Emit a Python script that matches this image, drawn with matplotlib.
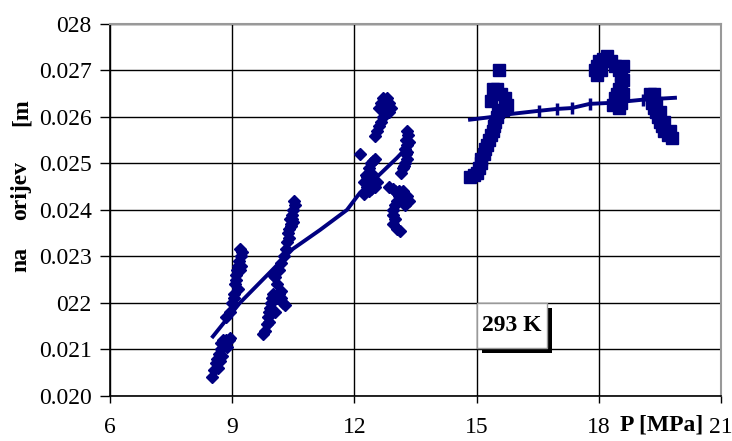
import matplotlib.pyplot as plt
from matplotlib.patches import Rectangle

# measured points, lower pressures (diamonds)
p_low = [8.52, 8.55, 8.60, 8.62, 8.68, 8.72, 8.70, 8.66, 8.75, 8.80, 8.85, 8.92, 8.95, 8.88, 8.78, 8.74,
         8.85, 8.95, 9.00, 9.05, 9.08, 9.10, 9.12, 9.15, 9.18, 9.22, 9.25, 9.20, 9.10, 9.15, 9.20, 9.23, 9.05,
         9.75, 9.80, 9.85, 9.88, 9.90, 9.93, 9.95, 9.98, 10.00, 10.05, 10.10, 10.15, 10.20, 10.25, 10.30,
         10.05, 10.00, 10.10, 10.20, 9.90, 10.05,
         10.15, 10.20, 10.28, 10.32, 10.35, 10.38, 10.40, 10.45, 10.42, 10.48, 10.50, 10.55, 10.52, 10.45,
         10.50, 10.40, 10.47,
         12.15, 12.25, 12.30, 12.28, 12.35, 12.40, 12.45, 12.50, 12.35, 12.42, 12.50, 12.55, 12.30, 12.40, 12.25,
         12.50, 12.55, 12.60, 12.65, 12.70, 12.75, 12.70, 12.65, 12.70, 12.80, 12.85, 12.90, 12.85, 12.60, 12.75,
         13.30, 13.32, 13.28, 13.30, 13.25, 13.28, 13.30, 13.25, 13.20, 13.15, 13.22, 13.30, 13.35,
         12.85, 12.95, 13.00, 13.10, 13.20, 13.30, 13.35, 13.05, 13.00, 12.95, 12.95, 13.00, 12.95, 13.05,
         13.12, 13.20, 13.25, 13.10]
d_low = [0.02040, 0.02055, 0.02070, 0.02080, 0.02090, 0.02100, 0.02075, 0.02060, 0.02085, 0.02110,
         0.02120, 0.02120, 0.02125, 0.02105, 0.02120, 0.02115,
         0.02170, 0.02180, 0.02200, 0.02220, 0.02240, 0.02260, 0.02270, 0.02280, 0.02290, 0.02300, 0.02310,
         0.02315, 0.02250, 0.02230, 0.02270, 0.02280, 0.02210,
         0.02133, 0.02140, 0.02155, 0.02170, 0.02180, 0.02190, 0.02200, 0.02210, 0.02220, 0.02215, 0.02210,
         0.02220, 0.02210, 0.02200, 0.02195, 0.02255, 0.02260, 0.02240, 0.02225, 0.02160, 0.02180,
         0.02270, 0.02285, 0.02300, 0.02315, 0.02330, 0.02350, 0.02360, 0.02370, 0.02380, 0.02390, 0.02400,
         0.02410, 0.02420, 0.02365, 0.02375, 0.02340, 0.02380,
         0.02520, 0.02460, 0.02450, 0.02475, 0.02490, 0.02500, 0.02505, 0.02510, 0.02440, 0.02445, 0.02450,
         0.02460, 0.02470, 0.02480, 0.02435,
         0.02558, 0.02570, 0.02580, 0.02590, 0.02600, 0.02610, 0.02620, 0.02630, 0.02640, 0.02640, 0.02630,
         0.02620, 0.02610, 0.02620, 0.02635,
         0.02570, 0.02560, 0.02550, 0.02540, 0.02530, 0.02520, 0.02510, 0.02500, 0.02490, 0.02480, 0.02495,
         0.02525, 0.02545,
         0.02450, 0.02445, 0.02440, 0.02440, 0.02440, 0.02430, 0.02420, 0.02420, 0.02410, 0.02400, 0.02390,
         0.02380, 0.02370, 0.02360, 0.02355, 0.02420, 0.02410, 0.02430]

# measured points, higher pressures (squares)
p_high = [14.85, 14.95, 15.00, 15.05, 15.10, 15.12, 15.18, 15.20, 15.25, 15.30, 15.35, 15.40, 15.42, 15.45,
          15.50, 15.52, 15.35, 15.40, 15.50, 15.60, 15.70, 15.75, 15.65, 15.55,
          17.90, 17.95, 18.00, 18.10, 18.20, 18.30, 18.40, 18.50, 18.55, 18.60, 18.55, 18.50, 18.45, 18.40,
          18.45, 18.50, 18.55, 18.60, 17.95, 18.05, 18.60, 18.35,
          19.25, 19.35, 19.30, 19.30, 19.35, 19.40, 19.45, 19.50, 19.55, 19.60, 19.70, 19.80, 19.75, 19.50,
          19.40, 19.60]
d_high = [0.02470, 0.02475, 0.02480, 0.02490, 0.02500, 0.02510, 0.02520, 0.02530, 0.02540, 0.02550, 0.02560,
          0.02570, 0.02580, 0.02590, 0.02600, 0.02610, 0.02635, 0.02660, 0.02660, 0.02650, 0.02640, 0.02625,
          0.02615, 0.02700,
          0.02700, 0.02710, 0.02720, 0.02725, 0.02730, 0.02720, 0.02710, 0.02700, 0.02690, 0.02680, 0.02670,
          0.02660, 0.02650, 0.02640, 0.02630, 0.02620, 0.02630, 0.02650, 0.02690, 0.02700, 0.02710, 0.02625,
          0.02650, 0.02650, 0.02640, 0.02630, 0.02620, 0.02610, 0.02600, 0.02590, 0.02580, 0.02570, 0.02560,
          0.02555, 0.02570, 0.02610, 0.02630, 0.02590]

# fitted curves
fit_low_p = [8.53, 9.19, 10.00, 10.49, 11.16, 11.82, 12.14, 12.56, 13.05, 13.19]
fit_low_d = [0.02128, 0.02200, 0.02272, 0.02316, 0.02357, 0.02400, 0.02437, 0.02471, 0.02512, 0.02525]
fit_high_p = [14.84, 15.40, 15.82, 16.53, 16.97, 17.34, 17.78, 18.28, 19.09, 19.87]
fit_high_d = [0.02594, 0.02600, 0.02606, 0.02613, 0.02617, 0.02619, 0.02628, 0.02630, 0.02637, 0.02641]
fit_high_marks = [1, 3, 4, 5, 6, 8]

y_ticks = [0.020, 0.021, 0.022, 0.023, 0.024, 0.025, 0.026, 0.027, 0.028]
y_labels = ['0.020', '0.021', '022', '0.023', '0.024', '0.025', '0.026', '0.027', '028']
x_ticks = [6, 9, 12, 15, 18, 21]

navy = '#000080'
serif = 'Liberation Serif'
fs = 17

fig = plt.figure(figsize=(7.32, 4.41), dpi=100)
ax = fig.add_axes([0.150, 0.102, 0.835, 0.844])

ax.plot(p_low, d_low, 'D', color=navy, markersize=6.5, zorder=3)
ax.plot(p_high, d_high, 's', color=navy, markersize=8.5, zorder=3)
ax.plot(fit_low_p, fit_low_d, '-', color=navy, lw=2.8, zorder=4)
ax.plot(fit_high_p, fit_high_d, '-', color=navy, lw=2.8, zorder=4,
        marker='|', markersize=8, markeredgewidth=2.5, markevery=fit_high_marks)

ax.set_xlim(6, 21)
ax.set_ylim(0.020, 0.028)
ax.set_xticks(x_ticks)
ax.set_xticklabels([str(t) for t in x_ticks], fontfamily=serif, fontsize=fs)
ax.set_yticks(y_ticks)
ax.set_yticklabels(y_labels, fontfamily=serif, fontsize=fs)
ax.tick_params(axis='y', direction='out', length=7, width=1, pad=6)
ax.tick_params(axis='x', direction='out', length=5, width=1, pad=10)
ax.grid(True, color='black', lw=1)
ax.set_axisbelow(True)
for side in ('top', 'right'):
    ax.spines[side].set_color('#999999')
    ax.spines[side].set_linewidth(1.5)
ax.spines['left'].set_linewidth(1.2)
ax.spines['bottom'].set_linewidth(1.2)

# axis captions
fig.text(662 / 732, 1 - 425 / 441, 'P [MPa]', fontfamily=serif, fontsize=fs,
         fontweight='bold', ha='center', va='center')
for txt, yc in (('na', 259), ('orijev', 191), ('[m', 112)):
    fig.text(21 / 732, 1 - yc / 441, txt, fontfamily=serif, fontsize=fs,
             fontweight='bold', rotation=90, ha='center', va='center')

# temperature label with drop shadow
ax.add_patch(Rectangle((15.14, 0.02092), 1.71, 0.00097, facecolor='black',
                       edgecolor='none', zorder=5))
ax.add_patch(Rectangle((15.01, 0.02103), 1.72, 0.00097, facecolor='white',
                       edgecolor='#999999', lw=1, zorder=6))
ax.text(15.87, 0.021515, '293 K', fontfamily=serif, fontsize=fs, fontweight='bold',
        ha='center', va='center', zorder=7)

fig.savefig('out.png', dpi=100)
